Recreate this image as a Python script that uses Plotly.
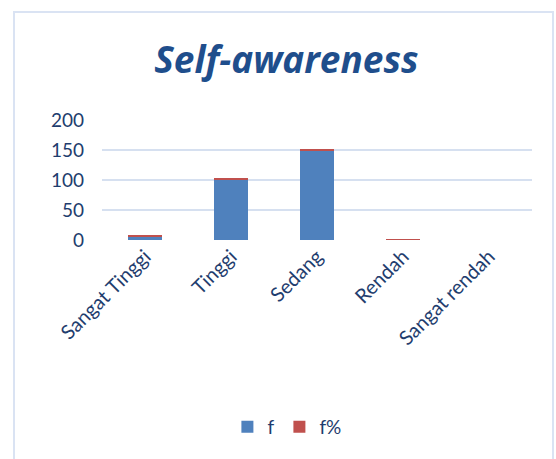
import plotly.graph_objects as go

categories = ["Sangat Tinggi", "Tinggi", "Sedang", "Rendah", "Sangat rendah"]
f_values = [5, 101, 149, 0, 0]
fpct_values = [2, 1.5, 1.5, 1.2, 0]
y_ticks = [0, 50, 100, 150, 200]

W, H = 556, 459
L, R, T, B = 102, 24, 120, 219

fig = go.Figure()
fig.add_trace(go.Bar(x=categories, y=f_values, name="f", marker=dict(color="#4f81bd", line=dict(width=0))))
fig.add_trace(go.Bar(x=categories, y=fpct_values, name="f%", marker=dict(color="#c0504d", line=dict(width=0))))

pw = W - L - R
ph = H - T - B
def px_to_paper_x(px):
    return (px - L) / pw
def px_to_paper_y(py):
    return (H - B - py) / ph

fig.update_layout(
    width=W, height=H,
    barmode="stack", bargap=0.6,
    margin=dict(l=L, r=R, t=T, b=B),
    paper_bgcolor="white", plot_bgcolor="white",
    font=dict(family="Lato, Open Sans, sans-serif", color="#1f3d6e"),
    title=dict(text="<b><i>Self-awareness</i></b>", x=0.515, xanchor="center",
               y=1 - 60 / H, yanchor="middle",
               font=dict(size=37, color="#1f4e8c", family="Open Sans, sans-serif")),
    xaxis=dict(tickangle=-45, tickfont=dict(size=20, color="#1f3d6e"), showgrid=False,
               showline=False, ticks="", automargin=False),
    yaxis=dict(range=[0, 200], tickvals=y_ticks, tickfont=dict(size=19, color="#1f3d6e"),
               showgrid=True, gridcolor="#d6e0f0", gridwidth=1.5, zeroline=False,
               showline=False, ticks="", ticklabelstandoff=17, automargin=False),
    legend=dict(orientation="h", x=0.43, xanchor="center", y=px_to_paper_y(427), yanchor="middle",
                font=dict(size=19, color="#1f3d6e"), itemwidth=30, traceorder="normal"),
    shapes=[dict(type="rect", xref="paper", yref="paper",
                 x0=px_to_paper_x(14), x1=px_to_paper_x(553),
                 y0=px_to_paper_y(470), y1=px_to_paper_y(12),
                 line=dict(color="#dae3f3", width=2), layer="below")],
)

fig.write_html("out.html", config={"displayModeBar": False},
               post_script="document.body.style.margin='0';")
